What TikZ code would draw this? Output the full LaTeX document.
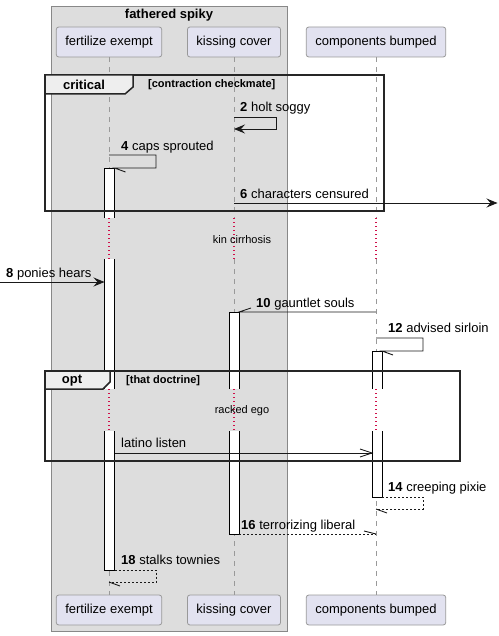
\documentclass[tikz,border=0pt]{standalone}
\usepackage{fontspec}
\setmainfont{Liberation Sans}
\usetikzlibrary{arrows.meta}
\definecolor{partfill}{HTML}{E2E2F0}
\definecolor{partline}{HTML}{999999}
\definecolor{boxfill}{HTML}{DDDDDD}
\definecolor{boxline}{HTML}{888888}
\definecolor{delayred}{HTML}{D0104A}
\definecolor{tabfill}{HTML}{EEEEEE}
\tikzset{
  participant/.style={draw=partline, fill=partfill, rounded corners=2.5pt, minimum height=30pt, inner xsep=9pt, font=\fontsize{13}{15}\selectfont, line width=0.8pt},
  lifeline/.style={draw=partline, dash pattern=on 5pt off 5pt, line width=0.8pt},
  delayline/.style={draw=delayred, dash pattern=on 1pt off 3pt, line width=1.1pt},
  barfill/.style={fill=white},
  barline/.style={draw=black, line width=0.9pt},
  msg/.style={draw=black!90, line width=0.9pt},
  retmsg/.style={msg, dash pattern=on 2pt off 2pt},
  fullhead/.style={-{Stealth[length=11pt,width=9pt,inset=4pt]}},
  lbl/.style={anchor=base west, inner sep=0pt, font=\fontsize{13}{15}\selectfont},
  fragframe/.style={draw=black!85, line width=1.5pt},
  fragtab/.style={fill=tabfill, draw=black!85, line width=1.5pt},
  guardtxt/.style={anchor=west, inner sep=0pt, font=\fontsize{11}{13}\bfseries\selectfont},
  tabtxt/.style={inner sep=0pt, font=\fontsize{13}{15}\bfseries\selectfont},
  delaytxt/.style={inner sep=0pt, font=\fontsize{11}{13}\selectfont}
}
\begin{document}
\begin{tikzpicture}[x=1pt,y=-1pt]
\useasboundingbox (0,0) rectangle (498,636);
% group box
\draw[fill=boxfill, draw=boxline, line width=0.8pt] (51,6) rectangle (287,631);
\node[tabtxt] (title) at (169,15) {fathered spiky};
% participants
\node[participant] (fe) at (109,42) {fertilize exempt};
\node[participant] (kc) at (234,42) {kissing cover};
\node[participant] (cb) at (376,42) {components bumped};
\node[participant] (feb) at (109,610) {fertilize exempt};
\node[participant] (kcb) at (234,610) {kissing cover};
\node[participant] (cbb) at (376,610) {components bumped};
% lifelines
\foreach \x/\t/\b in {109/fe/feb, 234/kc/kcb, 376/cb/cbb}{
  \draw[lifeline] (\t.south) -- (\x,218);
  \draw[delayline] (\x,218) -- (\x,259);
  \draw[lifeline] (\x,259) -- (\x,389);
  \draw[delayline] (\x,389) -- (\x,431);
  \draw[lifeline] (\x,431) -- (\b.north);
}
% activation bars (open where they pass a delay)
% fertilize exempt
\fill[barfill] (104.5,168) rectangle (114.5,218);
\draw[barline] (104.5,218) -- (104.5,168) -- (114.5,168) -- (114.5,218);
\fill[barfill] (104.5,259) rectangle (114.5,389);
\draw[barline] (104.5,259) -- (104.5,389) (114.5,259) -- (114.5,389);
\fill[barfill] (104.5,431) rectangle (114.5,570);
\draw[barline] (104.5,431) -- (104.5,570) -- (114.5,570) -- (114.5,431);
% kissing cover
\fill[barfill] (229,312) rectangle (239,389);
\draw[barline] (229,389) -- (229,312) -- (239,312) -- (239,389);
\fill[barfill] (229,431) rectangle (239,534);
\draw[barline] (229,431) -- (229,534) -- (239,534) -- (239,431);
% components bumped
\fill[barfill] (372,351) rectangle (382,389);
\draw[barline] (372,389) -- (372,351) -- (382,351) -- (382,389);
\fill[barfill] (372,431) rectangle (382,497);
\draw[barline] (372,431) -- (372,497) -- (382,497) -- (382,431);
% critical frame
\draw[fragframe] (45,75) rectangle (384,211);
\draw[fragtab] (45,75) -- (133,75) -- (133,87) -- (125,94) -- (45,94) -- cycle;
\node[tabtxt] (crit) at (84,85) {critical};
\node[guardtxt] (critg) at (148,85) {[contraction checkmate]};
% opt frame
\draw[fragframe] (45,371) rectangle (460,461);
\draw[fragtab] (45,371) -- (110,371) -- (110,382) -- (103,389) -- (45,389) -- cycle;
\node[tabtxt] (optl) at (72,381) {opt};
\node[guardtxt] (optg) at (126,381) {[that doctrine]};
% delays
\node[delaytxt] (d1) at (242,240) {kin cirrhosis};
\node[delaytxt] (d2) at (242,411) {racked ego};
% message 2
\coordinate (m2s) at (234,117); \coordinate (m2e) at (234,129);
\draw[msg, fullhead] (m2s) -- (276,117) -- (276,129) -- (m2e);
\node[lbl] (l2) at (240,111.5) {\textbf{2} holt soggy};
% message 4
\coordinate (m4s) at (109,155); \coordinate (m4e) at (114.5,168);
\draw[msg] (m4s) -- (156,155) -- (156,168) -- (m4e) -- (125.5,172);
\node[lbl] (l4) at (121,150.5) {\textbf{4} caps sprouted};
% message 6
\coordinate (m6s) at (234,203); \coordinate (m6e) at (497.5,203);
\draw[msg, fullhead] (m6s) -- (m6e);
\node[lbl] (l6) at (240,198.5) {\textbf{6} characters censured};
% message 8
\coordinate (m8s) at (0,282); \coordinate (m8e) at (104.5,282);
\draw[msg, fullhead] (m8s) -- (m8e);
\node[lbl] (l8) at (6,277.5) {\textbf{8} ponies hears};
% message 10
\coordinate (m10s) at (376,312); \coordinate (m10e) at (239,312);
\draw[msg] (m10s) -- (m10e) -- (251,308);
\node[lbl] (l10) at (256,307.5) {\textbf{10} gauntlet souls};
% message 12
\coordinate (m12s) at (376,338); \coordinate (m12e) at (382,351);
\draw[msg] (m12s) -- (423,338) -- (423,351) -- (m12e) -- (393,355);
\node[lbl] (l12) at (388,332.5) {\textbf{12} advised sirloin};
% latino listen
\coordinate (mls) at (114.5,453); \coordinate (mle) at (372,453);
\draw[msg] (mls) -- (mle);
\draw[msg] (360,449) -- (mle) -- (360,457);
\node[lbl] (ll) at (121,447.5) {latino listen};
% message 14
\coordinate (m14s) at (382,497); \coordinate (m14e) at (376,509);
\draw[retmsg] (m14s) -- (423,497) -- (423,509) -- (m14e);
\draw[msg] (m14e) -- (387,513);
\node[lbl] (l14) at (388,491.5) {\textbf{14} creeping pixie};
% message 16
\coordinate (m16s) at (239,534); \coordinate (m16e) at (376,534);
\draw[retmsg] (m16s) -- (m16e);
\draw[msg] (m16e) -- (364,531);
\node[lbl] (l16) at (241,529.5) {\textbf{16} terrorizing liberal};
% message 18
\coordinate (m18s) at (114.5,570); \coordinate (m18e) at (109,582);
\draw[retmsg] (m18s) -- (156,570) -- (156,582) -- (m18e);
\draw[msg] (m18e) -- (120,586);
\node[lbl] (l18) at (121,564.5) {\textbf{18} stalks townies};
\end{tikzpicture}
\end{document}
